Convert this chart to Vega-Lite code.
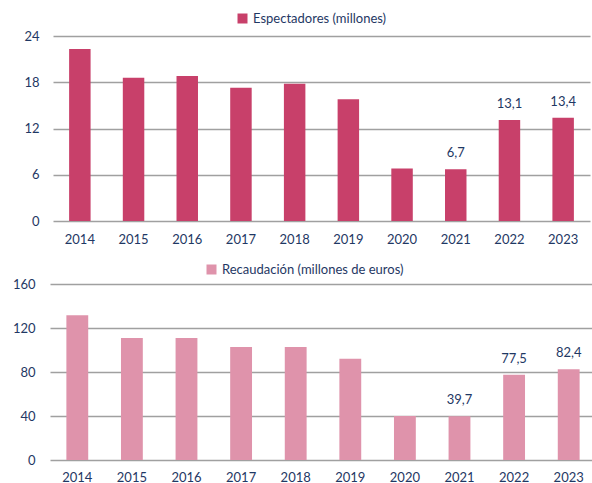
{
  "$schema": "https://vega.github.io/schema/vega-lite/v6.json",
  "autosize": {"type": "pad"},
  "padding": {"left": 12, "top": 12, "right": 0, "bottom": 0},
  "background": "white",
  "config": {
    "view": {"stroke": null},
    "font": "Lato",
    "locale": {"number": {"decimal": ",", "thousands": ".", "grouping": [3], "currency": ["", " €"]}},
    "axis": {"labelFont": "Lato", "labelFontSize": 13, "labelColor": "#1F3864", "title": null, "ticks": false},
    "legend": {"labelFont": "Lato", "labelFontSize": 13, "labelColor": "#1F3864", "labelLimit": 400, "symbolType": "square", "symbolSize": 100, "symbolStrokeWidth": 0, "title": null},
    "concat": {"spacing": 63}
  },
  "datasets": {
    "d": [
      {"anio": "2014", "espectadores": 22.3, "recaudacion": 131.5},
      {"anio": "2015", "espectadores": 18.6, "recaudacion": 110.9},
      {"anio": "2016", "espectadores": 18.8, "recaudacion": 110.9},
      {"anio": "2017", "espectadores": 17.3, "recaudacion": 102.7},
      {"anio": "2018", "espectadores": 17.8, "recaudacion": 102.7},
      {"anio": "2019", "espectadores": 15.8, "recaudacion": 92.1},
      {"anio": "2020", "espectadores": 6.8, "recaudacion": 40.0},
      {"anio": "2021", "espectadores": 6.7, "recaudacion": 39.7},
      {"anio": "2022", "espectadores": 13.1, "recaudacion": 77.5},
      {"anio": "2023", "espectadores": 13.4, "recaudacion": 82.4}
    ]
  },
  "bounds": "flush",
  "vconcat": [
    {
      "width": 537,
      "height": 185,
      "data": {"name": "d"},
      "layer": [
        {
          "mark": {"type": "bar"},
          "encoding": {
            "x": {"field": "anio", "type": "nominal", "sort": null,
                  "scale": {"paddingInner": 0.6, "paddingOuter": 0.3},
                  "axis": {"labelAngle": 0, "labelPadding": 12, "domain": false, "grid": false}},
            "y": {"field": "espectadores", "type": "quantitative",
                  "scale": {"domain": [0, 24]},
                  "axis": {"values": [0, 6, 12, 18, 24], "labelPadding": 14, "domain": false, "grid": true, "gridColor": "#A0A0A0", "gridWidth": 1.6}},
            "color": {"datum": "Espectadores (millones)", "type": "nominal",
                      "scale": {"range": ["#C8406A"]},
                      "legend": {"orient": "none", "legendX": 183, "legendY": -24, "direction": "horizontal"}}
          }
        },
        {
          "transform": [{"filter": "datum.anio >= '2021'"}],
          "mark": {"type": "text", "baseline": "bottom", "dy": -9, "fontSize": 13, "color": "#1F3864", "font": "Lato"},
          "encoding": {
            "x": {"field": "anio", "type": "nominal", "sort": null},
            "y": {"field": "espectadores", "type": "quantitative"},
            "text": {"field": "espectadores", "type": "quantitative", "format": ".1f"}
          }
        }
      ]
    },
    {
      "width": 546,
      "height": 176,
      "data": {"name": "d"},
      "layer": [
        {
          "mark": {"type": "bar"},
          "encoding": {
            "x": {"field": "anio", "type": "nominal", "sort": null,
                  "scale": {"paddingInner": 0.6, "paddingOuter": 0.3, "range": [-3, 543]},
                  "axis": {"labelAngle": 0, "labelPadding": 11, "domain": false, "grid": false}},
            "y": {"field": "recaudacion", "type": "quantitative",
                  "scale": {"domain": [0, 160]},
                  "axis": {"values": [0, 40, 80, 120, 160], "labelPadding": 18, "domain": false, "grid": true, "gridColor": "#A0A0A0", "gridWidth": 1.6}},
            "color": {"datum": "Recaudación (millones de euros)", "type": "nominal",
                      "scale": {"range": ["#DF93AB"]},
                      "legend": {"orient": "none", "legendX": 152, "legendY": -21, "direction": "horizontal"}}
          }
        },
        {
          "transform": [{"filter": "datum.anio >= '2021'"}],
          "mark": {"type": "text", "baseline": "bottom", "dy": -9, "fontSize": 13, "color": "#1F3864", "font": "Lato"},
          "encoding": {
            "x": {"field": "anio", "type": "nominal", "sort": null},
            "y": {"field": "recaudacion", "type": "quantitative"},
            "text": {"field": "recaudacion", "type": "quantitative", "format": ".1f"}
          }
        }
      ]
    }
  ],
  "resolve": {"scale": {"color": "independent", "x": "independent", "y": "independent"}}
}
